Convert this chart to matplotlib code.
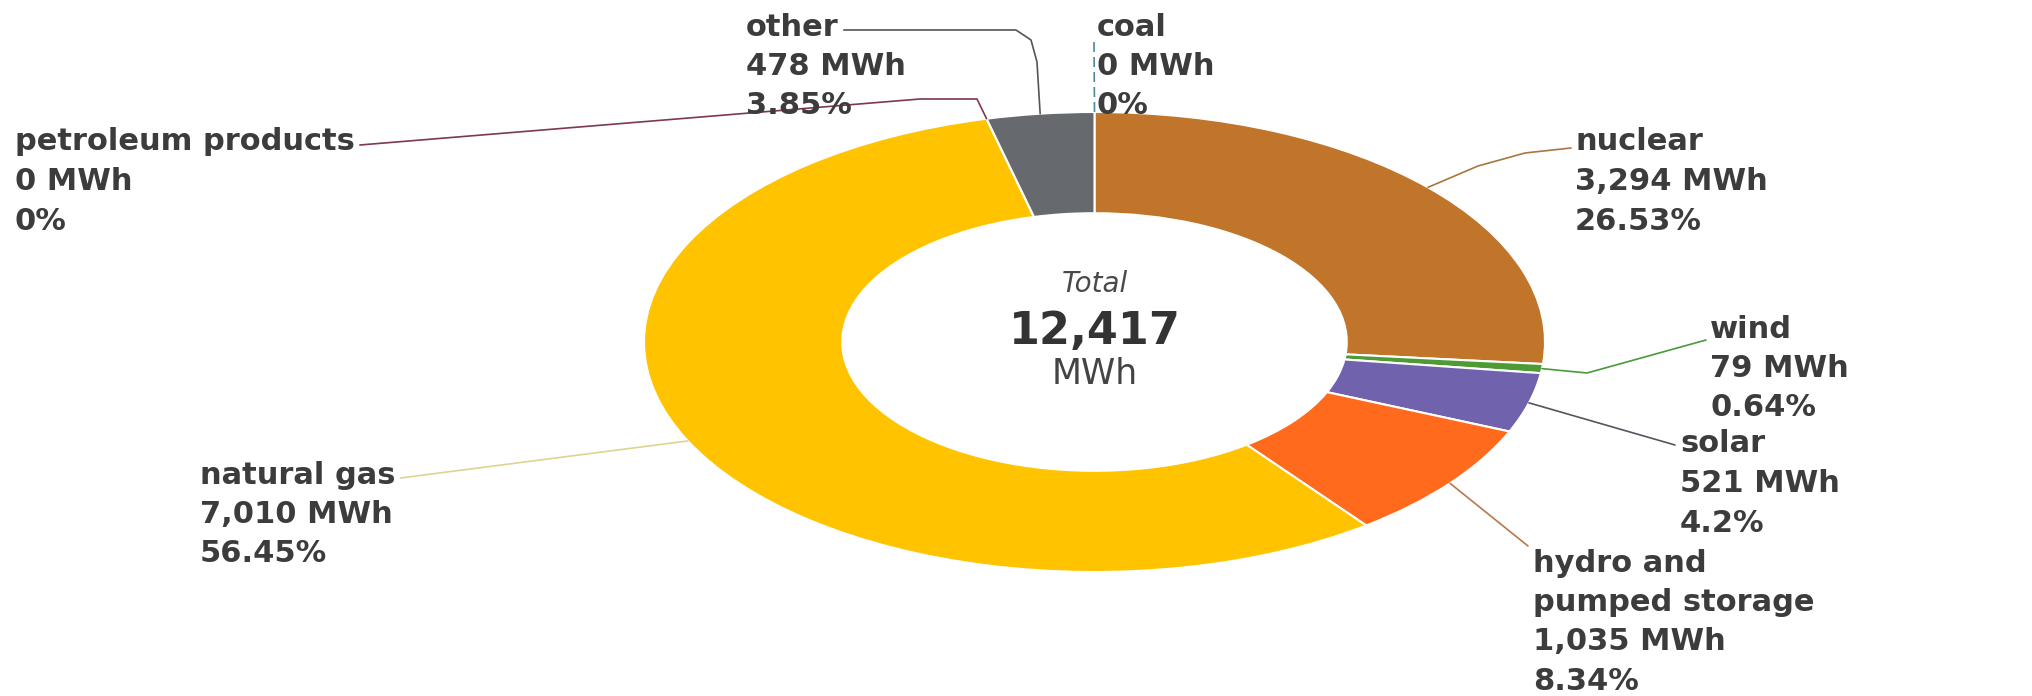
import numpy as np
import matplotlib.pyplot as plt

plt.rcParams['font.family'] = ['DejaVu Sans']

# generation by source, clockwise from 12 o'clock
sources = ['coal', 'nuclear', 'wind', 'solar', 'hydro and\npumped storage',
           'natural gas', 'petroleum products', 'other']
mwh = [0, 3294, 79, 521, 1035, 7010, 0, 478]

slice_colors = ['#2b5566', '#c0752a', '#4e9a34', '#7062ad', '#ff6a1c',
                '#ffc300', '#8b2e3f', '#66696d']
leader_colors = ['#4f879e', '#a8763f', '#4a9a3a', '#555560', '#b8774c',
                 '#ddd48e', '#7d3a4a', '#555555']

# layout in pixels of the 2032x696 canvas: label left x / first line y
label_pos = [(1097, 27), (1575, 142), (1710, 329), (1680, 444), (1533, 563),
             (200, 475), (15, 142), (746, 27)]
text_side = ['r', 'r', 'r', 'r', 'r', 'l', 'l', 'l']
leader_bends = [[], [(1478, 166), (1525, 153)], [(1587, 373)], [], [],
                [], [(977, 99), (920, 99)], [(1037, 62), (1031, 40), (1016, 30)]]
leader_ends = [(1094, 40), (1571, 148), (1706, 340), (1675, 445), (1528, 546),
               None, None, None]

W, H = 2032, 696
fig = plt.figure(figsize=(W / 100, H / 100), dpi=100)

# donut (stretched horizontally like the original)
ring = fig.add_axes([644 / W, 1 - 572 / H, 901 / W, 460 / H])
wedges, _ = ring.pie(mwh, colors=slice_colors, startangle=90, counterclock=False,
                     radius=1.0,
                     wedgeprops=dict(width=0.44, edgecolor='white', linewidth=1.5))
ring.set_aspect('auto')
ring.set_xlim(-1, 1)
ring.set_ylim(-1, 1)
ring.axis('off')

# overlay in pixel coordinates for labels and leader lines
ov = fig.add_axes([0, 0, 1, 1], zorder=3)
ov.set_xlim(0, W)
ov.set_ylim(H, 0)
ov.axis('off')
ov.patch.set_visible(False)


def rim_point(w, r=1.0):
    a = np.deg2rad((w.theta1 + w.theta2) / 2)
    p = ring.transData.transform((r * np.cos(a), r * np.sin(a)))
    return ov.transData.inverted().transform(p)


total = sum(mwh)
text_color = '#3c3c3c'
line_gap = 39.5
renderer = fig.canvas.get_renderer()

for i, (name, v) in enumerate(zip(sources, mwh)):
    share = round(100 * v / total, 2)
    lines = name.split('\n') + [f'{v:,} MWh', f'{share:g}%']
    x0, y0 = label_pos[i]
    texts = []
    for k, s in enumerate(lines):
        texts.append(ov.text(x0, y0 + k * line_gap, s, ha='left', va='center',
                             fontsize=22, fontweight='bold', color=text_color))
    if text_side[i] == 'l':
        bb = texts[0].get_window_extent(renderer)
        xe, _ = ov.transData.inverted().transform((bb.x1, bb.y0))
        end = (xe + 5, y0 + 3)
    else:
        end = leader_ends[i]
    pts = [rim_point(wedges[i])] + leader_bends[i] + [end]
    xs, ys = zip(*pts)
    ls = (0, (6, 3)) if i == 0 else '-'
    ov.plot(xs, ys, color=leader_colors[i], lw=1.2, ls=ls, solid_capstyle='round')

# centre total
cx, cy = ov.transData.inverted().transform(ring.transData.transform((0, 0)))
ov.text(cx, cy - 58, 'Total', ha='center', va='center', fontsize=20,
        style='italic', color='#4a4a4a')
ov.text(cx, cy + 2, f'{total:,}', ha='center', va='baseline', fontsize=32,
        fontweight='bold', color='#333333')
ov.text(cx, cy + 15, 'MWh', ha='center', va='top', fontsize=25,
        color='#444444')

fig.savefig('out.png', dpi=100)
